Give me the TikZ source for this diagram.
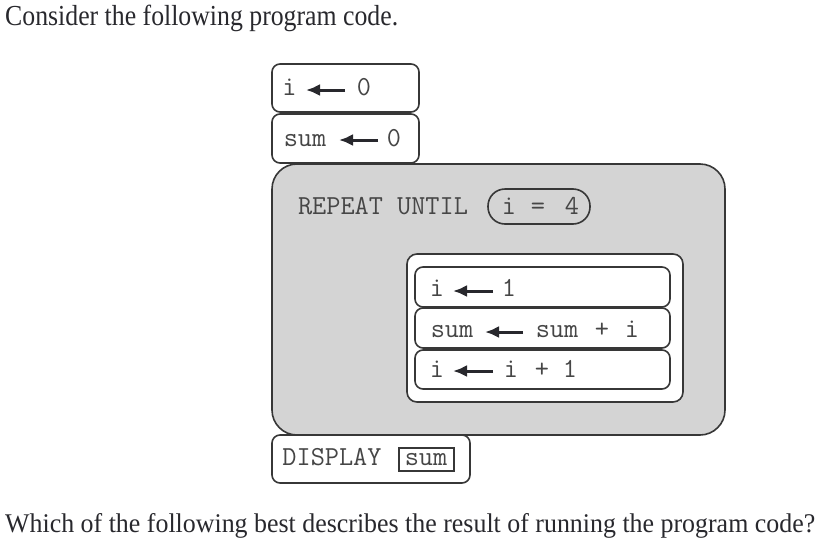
\documentclass[tikz,border=0pt]{standalone}
\usepackage{fontspec}
\setmainfont{Liberation Serif}
\usepackage{graphicx}
\usetikzlibrary{arrows.meta}
\definecolor{ink}{RGB}{40,40,45}
\definecolor{codeink}{RGB}{70,70,70}
\definecolor{edge}{RGB}{55,55,55}
\definecolor{loopfill}{RGB}{212,212,212}
\tikzset{
  stmt/.style={draw=edge, line width=1.6pt, rounded corners=8pt, fill=white},
  loopbox/.style={draw=edge, line width=1.6pt, rounded corners=25pt, fill=loopfill},
  condbox/.style={draw=edge, line width=1.6pt, rounded corners=17pt, fill=loopfill},
  code/.style={inner sep=0pt, anchor=base, text=codeink, font=\ttfamily\fontsize{27.5}{29}\selectfont},
  assign/.style={draw=ink, line width=3pt, -{Latex[length=14pt,width=12pt]}},
  prose/.style={inner sep=0pt, anchor=base west, text=ink}
}
\begin{document}
\begin{tikzpicture}[x=1pt,y=-1pt]
\useasboundingbox (0,0) rectangle (832,541);
% prose
\node[prose] (q1) at (5,25) {\resizebox{393pt}{\height}{\fontsize{29}{31}\selectfont Consider the following program code.}};
\node[prose] (q2) at (5,532) {\resizebox{810pt}{\height}{\fontsize{27}{29}\selectfont Which of the following best describes the result of running the program code?}};
% loop box
\draw[loopbox] (272,164) rectangle (725,435);
\node[code] (rep) at (383,214) {REPEAT UNTIL};
\draw[condbox] (488,189) rectangle (590,224);
\node[code] (c1) at (509,214) {i};
\node[code] (c2) at (538,214) {=};
\node[code] (c3) at (572,214) {4};
% first statements
\draw[stmt] (272,64) rectangle (419,112);
\node[code] (a1) at (289.5,95) {i};
\node[code] (a3) at (364,95) {0};
\coordinate (a2s) at (345,90); \coordinate (a2e) at (306,90);
\draw[assign] (a2s) -- (a2e);
\draw[stmt] (272,114) rectangle (419,163);
\node[code] (b1) at (305,146) {sum};
\node[code] (b3) at (394,146) {0};
\coordinate (b2s) at (378,140); \coordinate (b2e) at (339,140);
\draw[assign] (b2s) -- (b2e);
% inner block
\draw[stmt, rounded corners=10pt] (407,254) rectangle (683,402);
\draw[stmt] (415,267) rectangle (670,307);
\draw[stmt] (415,308) rectangle (670,348);
\draw[stmt] (415,350) rectangle (670,389);
\node[code] (d1) at (437,296) {i};
\node[code] (d3) at (509,296) {1};
\coordinate (d2s) at (493,291); \coordinate (d2e) at (453,291);
\draw[assign] (d2s) -- (d2e);
\node[code] (e1) at (452,337) {sum};
\node[code] (e3) at (557,337) {sum};
\node[code] (e4) at (602,337) {+};
\node[code] (e5) at (632,337) {i};
\coordinate (e2s) at (523,332); \coordinate (e2e) at (485,332);
\draw[assign] (e2s) -- (e2e);
\node[code] (f1) at (437,377) {i};
\node[code] (f3) at (511,377) {i};
\node[code] (f4) at (542,377) {+};
\node[code] (f5) at (570,377) {1};
\coordinate (f2s) at (493,371); \coordinate (f2e) at (453,371);
\draw[assign] (f2s) -- (f2e);
% display
\draw[stmt] (272,435) rectangle (470,483);
\node[code] (g1) at (332,465) {DISPLAY};
\draw[draw=edge, line width=1.8pt] (399,448) rectangle (454,471);
\node[code] (g2) at (426,465) {sum};
\end{tikzpicture}
\end{document}
